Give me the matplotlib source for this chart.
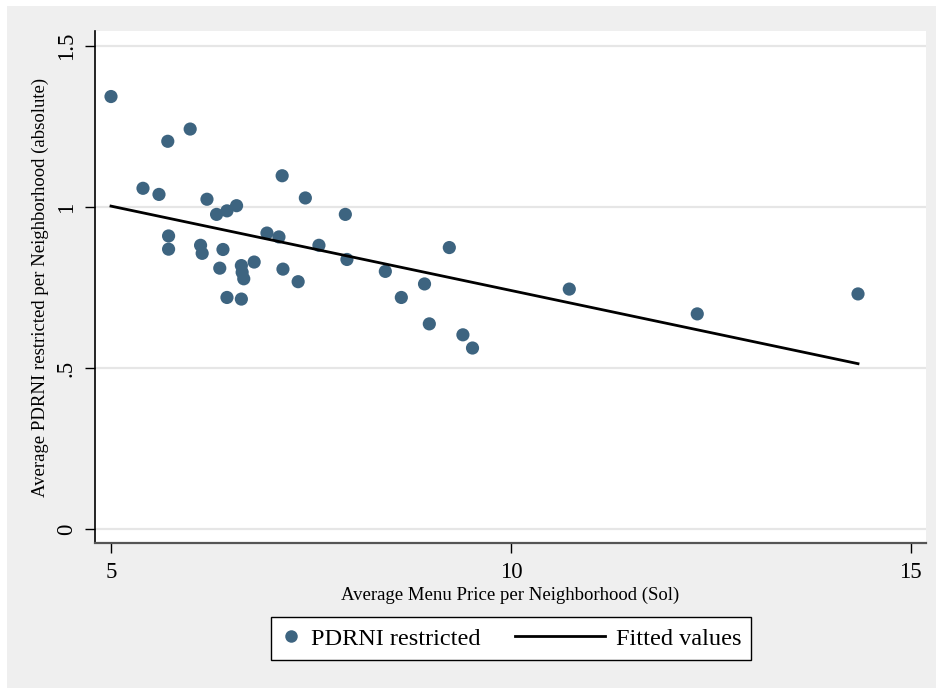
import numpy as np
import matplotlib
matplotlib.use("Agg")
import matplotlib.pyplot as plt
from matplotlib.lines import Line2D
from matplotlib.patches import Rectangle
from matplotlib.legend_handler import HandlerLine2D

# average menu price (Sol) and PDRNI restricted per neighborhood
price = [5.00, 5.40, 5.60, 5.71, 5.72, 5.72, 5.99, 6.12, 6.14, 6.20,
         6.32, 6.36, 6.40, 6.45, 6.45, 6.57, 6.63, 6.64, 6.66, 6.63,
         6.79, 6.95, 7.10, 7.14, 7.15, 7.34, 7.43, 7.60, 7.93, 7.95,
         8.43, 8.63, 8.92, 8.98, 9.23, 9.40, 9.52, 10.73, 12.33, 14.34]
pdrni = [1.343, 1.058, 1.039, 1.204, 0.910, 0.869, 1.242, 0.881, 0.856, 1.024,
         0.977, 0.810, 0.868, 0.988, 0.719, 1.004, 0.818, 0.797, 0.777, 0.714,
         0.829, 0.919, 0.907, 1.097, 0.807, 0.768, 1.028, 0.881, 0.977, 0.837,
         0.800, 0.719, 0.761, 0.637, 0.874, 0.603, 0.562, 0.745, 0.668, 0.730]

xticks = [5, 10, 15]
yticks = [0, 0.5, 1, 1.5]
ytick_labels = ["0", ".5", "1", "1.5"]

marker_col = "#3d6480"
serif = ["Liberation Serif", "DejaVu Serif"]
plt.rcParams["font.family"] = serif

# OLS fit like Stata's lfit
slope, icpt = np.polyfit(price, pdrni, 1)
fit_x = np.array([min(price), max(price)])
fit_y = icpt + slope * fit_x

fig = plt.figure(figsize=(9.36, 6.88), dpi=100, facecolor="white")
fig.patches.append(Rectangle((7/936, 0), 1, 1 - 6/688, transform=fig.transFigure,
                             facecolor="#efefef", edgecolor="none", zorder=-10))

ax = fig.add_axes([95/936, (688-543)/688, 831/936, (543-31)/688])
ax.set_facecolor("white")

ax.scatter(price, pdrni, s=90, color=marker_col, edgecolors="none", zorder=3)
ax.plot(fit_x, fit_y, color="black", lw=2, zorder=4)

ax.set_xlim(4.8, 15.19)
ax.set_ylim(-0.0435, 1.5465)
ax.set_xticks(xticks)
ax.set_yticks(yticks)
ax.set_yticklabels(ytick_labels, rotation=90, va="center")
ax.tick_params(axis="both", labelsize=16.5, length=7, width=1, color="black")
ax.tick_params(axis="x", pad=7)
ax.tick_params(axis="y", pad=6)
ax.grid(axis="y", color="#e6e6e6", lw=1.6)
ax.set_axisbelow(True)

for s in ["top", "right"]:
    ax.spines[s].set_visible(False)
ax.spines["left"].set_color("black")
ax.spines["left"].set_linewidth(1.2)
ax.spines["bottom"].set_color("#555555")
ax.spines["bottom"].set_linewidth(1.6)

ax.set_xlabel("Average Menu Price per Neighborhood (Sol)", fontsize=13.5, labelpad=2)
ax.set_ylabel("Average PDRNI restricted per Neighborhood (absolute)", fontsize=13.5, labelpad=5)


class LongLineHandler(HandlerLine2D):
    # stretch the fitted-line key to the left so it is longer than the dot's slot
    def get_xdata(self, legend, xdescent, ydescent, width, height, fontsize):
        xdata, xm = super().get_xdata(legend, xdescent, ydescent, width, height, fontsize)
        return np.array([-xdescent - 2.9 * fontsize, -xdescent + width]), xm


dot = Line2D([], [], ls="none", marker="o", markersize=9, color=marker_col, markeredgewidth=0)
fitline = Line2D([], [], color="black", lw=2)
leg = fig.legend([dot, fitline], ["PDRNI restricted", "Fitted values"],
                 handler_map={fitline: LongLineHandler()},
                 loc="center", bbox_to_anchor=(511/936, 1 - 638.5/688), ncol=2,
                 fontsize=17.5, handlelength=0.8, handletextpad=0.45, columnspacing=4.3,
                 borderpad=0.42, frameon=True, fancybox=False, framealpha=1)
leg.get_frame().set_edgecolor("black")
leg.get_frame().set_linewidth(1)

fig.savefig("out.png", dpi=100, facecolor=fig.get_facecolor())
